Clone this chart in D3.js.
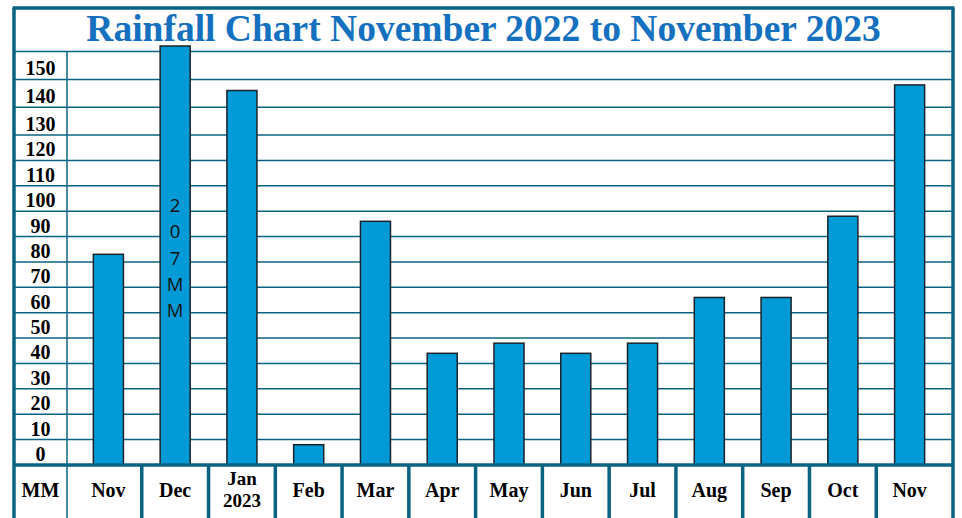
<!DOCTYPE html>
<html lang="en">
<head>
<meta charset="UTF-8">
<title>Rainfall Chart November 2022 to November 2023</title>
<style>
  body { margin: 0; background: #fff; }
  svg { display: block; }
  .grid { stroke: #0b6382; stroke-width: 1.5; }
  .frame { stroke: #0b6382; stroke-width: 3.5; }
  .label { font-family: "Liberation Serif", "Times New Roman", serif; font-weight: bold; font-size: 20px; fill: #000; text-anchor: middle; }
  .title { font-family: "Liberation Serif", "Times New Roman", serif; font-weight: bold; font-size: 37.5px; fill: #1570c0; text-anchor: middle; }
  .note { font-family: "Open Sans", "Liberation Sans", sans-serif; font-size: 18.5px; fill: #111; text-anchor: middle; }
</style>
</head>
<body>
<svg id="chart"></svg>
<script src="https://d3js.org/d3.v7.min.js"></script>
<script>
// rainfall in mm (Dec bar runs off the top: 207mm)
const periods = ["2022-11", "2022-12", "2023-01", "2023-02", "2023-03", "2023-04", "2023-05",
                 "2023-06", "2023-07", "2023-08", "2023-09", "2023-10", "2023-11"];
const monthLabels = ["Nov", "Dec", "Jan\n2023", "Feb", "Mar", "Apr", "May",
                     "Jun", "Jul", "Aug", "Sep", "Oct", "Nov"];
const rainfall = [83, 207, 146, 8, 96, 44, 48, 44, 48, 66, 66, 98, 148];
const yTicks = [0, 10, 20, 30, 40, 50, 60, 70, 80, 90, 100, 110, 120, 130, 140, 150];
const unitLabel = "MM";
const title = "Rainfall Chart November 2022 to November 2023";

const width = 962, height = 518;
const frameLeft = 14, colDiv = 67, frameRight = 953, frameTop = 8;
const plotTop = 160;

const svg = d3.select("#chart").attr("width", width).attr("height", height);

// rows in the original table are not perfectly even, so the scale is piecewise
const y = d3.scaleLinear()
    .domain([0, 130, 162])
    .range([465, 135, 46])
    .clamp(true);

const x = d3.scaleBand()
    .domain(periods)
    .range([75, 943]);

const barW = x.bandwidth() * 0.45;
const base = y(0);

// horizontal grid lines
svg.append("g")
    .selectAll("line")
    .data(yTicks.slice(1).concat([plotTop]))
    .join("line")
    .attr("class", "grid")
    .attr("x1", frameLeft).attr("x2", frameRight)
    .attr("y1", d => y(d)).attr("y2", d => y(d));

// unit column divider
svg.append("line").attr("class", "grid")
    .attr("x1", colDiv).attr("x2", colDiv)
    .attr("y1", y(plotTop)).attr("y2", height);

// y labels sit just above their grid line
svg.append("g")
    .selectAll("text")
    .data(yTicks)
    .join("text")
    .attr("class", "label")
    .attr("x", (frameLeft + colDiv) / 2)
    .attr("y", d => y(d) - 4)
    .text(d => d);

// bars
svg.append("g")
    .selectAll("rect")
    .data(rainfall)
    .join("rect")
    .attr("x", (d, i) => x(periods[i]) + (x.bandwidth() - barW) / 2)
    .attr("y", d => y(d))
    .attr("width", barW)
    .attr("height", d => base - y(d))
    .attr("fill", "#009bd6")
    .attr("stroke", "#1b2328")
    .attr("stroke-width", 1.5);

// value written down the bar that runs off the top
rainfall.forEach((v, i) => {
    if (v <= plotTop) return;
    const t = svg.append("text").attr("class", "note");
    (v + unitLabel).split("").forEach((ch, k) => {
        t.append("tspan")
            .attr("x", x(periods[i]) + x.bandwidth() / 2)
            .attr("y", y(100) + 1 + k * 26.2)
            .text(ch);
    });
});

// bottom label row
svg.append("g")
    .selectAll("line")
    .data(periods.slice(1))
    .join("line")
    .attr("class", "frame")
    .attr("x1", d => x(d)).attr("x2", d => x(d))
    .attr("y1", base).attr("y2", height);

svg.append("text").attr("class", "label")
    .attr("x", (frameLeft + colDiv) / 2).attr("y", 497)
    .text(unitLabel);

monthLabels.forEach((lab, i) => {
    const lines = lab.split("\n");
    lines.forEach((ln, k) => {
        svg.append("text").attr("class", "label")
            .attr("x", x(periods[i]) + x.bandwidth() / 2)
            .attr("y", lines.length > 1 ? 485 + k * 22 : 497)
            .style("font-size", lines.length > 1 ? "19px" : null)
            .text(ln);
    });
});

// frame
svg.append("line").attr("class", "frame")
    .attr("x1", frameLeft).attr("x2", frameRight).attr("y1", base).attr("y2", base);
svg.append("line").attr("class", "frame")
    .attr("x1", frameLeft - 1.5).attr("x2", frameRight + 1.5).attr("y1", frameTop).attr("y2", frameTop);
svg.append("line").attr("class", "frame")
    .attr("x1", frameLeft).attr("x2", frameLeft).attr("y1", frameTop).attr("y2", height);
svg.append("line").attr("class", "frame")
    .attr("x1", frameRight).attr("x2", frameRight).attr("y1", frameTop).attr("y2", height);

// title
svg.append("text").attr("class", "title")
    .attr("x", (frameLeft + frameRight) / 2).attr("y", 41)
    .text(title);
</script>
</body>
</html>
